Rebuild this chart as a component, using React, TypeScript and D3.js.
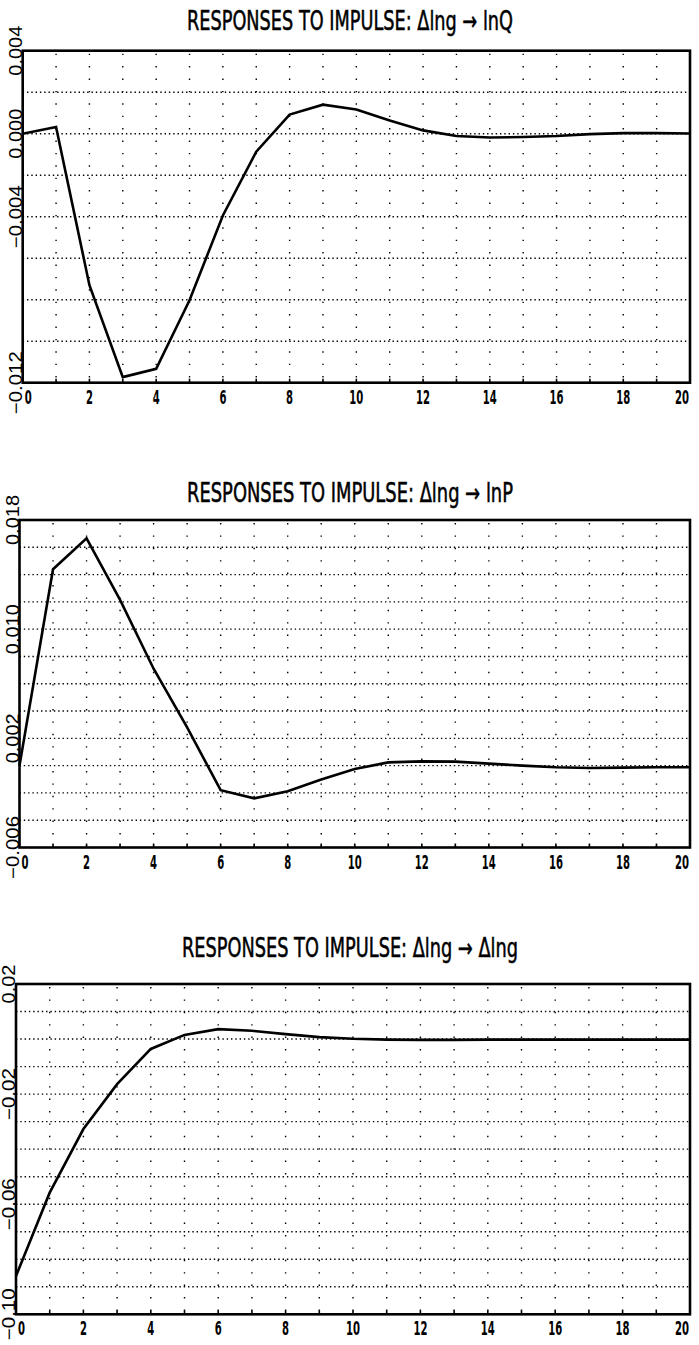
import * as d3 from 'd3';
import { useEffect, useRef } from 'react';

// horizon 0..20
const steps = d3.range(0, 21);
const xTickLabels = [0, 2, 4, 6, 8, 10, 12, 14, 16, 18, 20];

// Δlng -> lnQ
const lnQValues = [0, 0.00032, -0.0073, -0.01173, -0.01133, -0.00803, -0.00394, -0.00087, 0.00092, 0.0014, 0.00117,
    0.00064, 0.00016, -0.00011, -0.00018, -0.00016, -0.00011, -0.00002, 0.00003, 0.00003, 0.00001];
const lnQTicks = [0.004, 0, -0.004, -0.012];

// Δlng -> lnP
const lnPValues = [0, 0.01439, 0.01666, 0.01215, 0.0071, 0.0028, -0.0018, -0.0024, -0.00188, -0.00102, -0.00024,
    0.00024, 0.00031, 0.00029, 0.00015, 0, -0.00012, -0.00017, -0.00015, -0.00012, -0.00012];
const lnPTicks = [0.018, 0.01, 0.002, -0.006];

// Δlng -> Δlng
const dlngValues = [-0.0861, -0.0558, -0.0327, -0.0164, -0.0036, 0.0015, 0.0036, 0.003, 0.0018, 0.0007, 0.0001,
    -0.0002, -0.0003, -0.0003, -0.0002, -0.0002, -0.0002, -0.0002, -0.0002, -0.0002, -0.0002];
const dlngTicks = [0.02, -0.02, -0.06, -0.1];

const panels = [
    { title: 'RESPONSES TO IMPULSE: Δlng → lnQ', titleY: 30, left: 22.7, right: 690, top: 50.7, bottom: 382.7,
      domain: [-0.012, 0.004], step: 0.002, ticks: lnQTicks, fmt: '.3f', values: lnQValues },
    { title: 'RESPONSES TO IMPULSE: Δlng → lnP', titleY: 502, left: 19.5, right: 690, top: 520, bottom: 847.5,
      domain: [-0.006, 0.018], step: 0.002, ticks: lnPTicks, fmt: '.3f', values: lnPValues },
    { title: 'RESPONSES TO IMPULSE: Δlng → Δlng', titleY: 957, left: 16, right: 690, top: 984, bottom: 1314.3,
      domain: [-0.1, 0.02], step: 0.01, ticks: dlngTicks, fmt: '.2f', values: dlngValues },
];

const narrow = '"Liberation Sans Narrow", "DejaVu Sans Condensed", "DejaVu Sans", sans-serif';

function labelWidth(s) {
    let w = 0;
    for (const c of s) w += c === '.' ? 6 : (c === '−' || c === '-') ? 13 : 11;
    return w;
}

function drawPanel(svg, p) {
    const x = d3.scaleLinear().domain([0, 20]).range([p.left, p.right]);
    const y = d3.scaleLinear().domain(p.domain).range([p.bottom, p.top]);
    const g = svg.append('g');

    // title
    g.append('text')
        .attr('x', 350)
        .attr('y', p.titleY)
        .attr('text-anchor', 'middle')
        .attr('font-family', narrow)
        .attr('font-size', 26)
        .attr('textLength', p.title.endsWith('Δlng') ? 336 : 326)
        .attr('lengthAdjust', 'spacingAndGlyphs')
        .attr('fill', '#000')
        .attr('stroke', '#000')
        .attr('stroke-width', 0.5)
        .text(p.title);

    // horizontal grid
    const n = Math.round((p.domain[1] - p.domain[0]) / p.step);
    const hVals = d3.range(1, n).map(i => p.domain[0] + i * p.step);
    g.append('g')
        .selectAll('line')
        .data(hVals)
        .enter()
        .append('line')
        .attr('x1', p.left)
        .attr('x2', p.right)
        .attr('y1', d => y(d))
        .attr('y2', d => y(d))
        .attr('stroke', '#000')
        .attr('stroke-width', 1.4)
        .attr('stroke-dasharray', '1.4,2.9');

    // vertical grid
    g.append('g')
        .selectAll('line')
        .data(d3.range(1, 20))
        .enter()
        .append('line')
        .attr('x1', d => x(d))
        .attr('x2', d => x(d))
        .attr('y1', p.top + 3)
        .attr('y2', p.bottom)
        .attr('stroke', '#000')
        .attr('stroke-width', 1.4)
        .attr('stroke-dasharray', '1.4,11');

    // bottom ticks
    g.append('g')
        .selectAll('line')
        .data(d3.range(1, 20))
        .enter()
        .append('line')
        .attr('x1', d => x(d))
        .attr('x2', d => x(d))
        .attr('y1', p.bottom)
        .attr('y2', p.bottom - 4)
        .attr('stroke', '#000')
        .attr('stroke-width', 1.6);

    // frame
    g.append('rect')
        .attr('x', p.left)
        .attr('y', p.top)
        .attr('width', p.right - p.left)
        .attr('height', p.bottom - p.top)
        .attr('fill', 'none')
        .attr('stroke', '#000')
        .attr('stroke-width', 2.6);

    // response line
    const line = d3.line()
        .x((d, i) => x(steps[i]))
        .y(d => y(d));
    g.append('path')
        .datum(p.values)
        .attr('d', line)
        .attr('fill', 'none')
        .attr('stroke', '#000')
        .attr('stroke-width', 2.6)
        .attr('stroke-linejoin', 'miter');

    // x labels
    g.append('g')
        .selectAll('text')
        .data(xTickLabels)
        .enter()
        .append('text')
        .attr('x', d => d === 0 ? x(d) + 2 : d === 20 ? x(d) - 1 : x(d))
        .attr('y', p.bottom + 21)
        .attr('text-anchor', d => d === 0 ? 'start' : d === 20 ? 'end' : 'middle')
        .attr('font-family', narrow)
        .attr('font-size', 19)
        .attr('font-weight', 'bold')
        .attr('textLength', d => String(d).length * 7)
        .attr('lengthAdjust', 'spacingAndGlyphs')
        .attr('fill', '#000')
        .text(d => d);

    // y labels (rotated)
    const fmt = d3.format(p.fmt);
    g.append('g')
        .selectAll('text')
        .data(p.ticks)
        .enter()
        .append('text')
        .attr('transform', d => 'translate(' + (p.left - 1) + ',' + y(d) + ') rotate(-90)')
        .attr('text-anchor', 'middle')
        .attr('font-family', '"Liberation Sans", Arial, sans-serif')
        .attr('font-size', 18)
        .attr('textLength', d => labelWidth(fmt(d)))
        .attr('lengthAdjust', 'spacingAndGlyphs')
        .attr('fill', '#000')
        .text(d => fmt(d));
}

export default function App() {
    const ref = useRef(null);

    useEffect(() => {
        const svg = d3.select(ref.current);
        svg.selectAll('*').remove();
        panels.forEach(p => drawPanel(svg, p));
    }, []);

    return (
        <div style={{ position: 'absolute', left: 0, top: 0 }}>
            <svg ref={ref} width={699} height={1345} style={{ display: 'block', background: '#fff' }}></svg>
        </div>
    );
}
